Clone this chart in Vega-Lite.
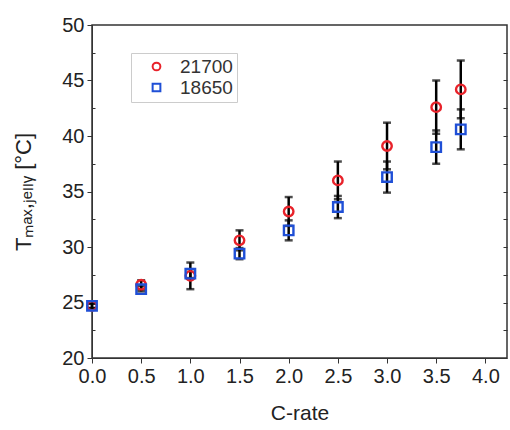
{
  "$schema": "https://vega.github.io/schema/vega-lite/v6.json",
  "width": 415,
  "height": 333,
  "autosize": {"type": "none"},
  "padding": {"left": 92, "top": 25, "right": 3, "bottom": 72},
  "background": "white",
  "config": {
    "font": "Liberation Sans",
    "view": {"stroke": "#333", "strokeWidth": 1.5},
    "axis": {"grid": false, "domainColor": "#333", "tickColor": "#333", "labelColor": "#222", "titleColor": "#222", "labelFont": "Liberation Sans", "titleFont": "Liberation Sans", "titleFontWeight": "normal"}
  },
  "datasets": {
    "pts": [
      {"c": 0.0, "t": 24.7, "lo": 24.5, "hi": 24.9, "cell": "21700"},
      {"c": 0.5, "t": 26.6, "lo": 26.2, "hi": 27.0, "cell": "21700"},
      {"c": 1.0, "t": 27.4, "lo": 26.2, "hi": 28.6, "cell": "21700"},
      {"c": 1.5, "t": 30.6, "lo": 29.7, "hi": 31.5, "cell": "21700"},
      {"c": 2.0, "t": 33.2, "lo": 31.9, "hi": 34.5, "cell": "21700"},
      {"c": 2.5, "t": 36.0, "lo": 34.3, "hi": 37.7, "cell": "21700"},
      {"c": 3.0, "t": 39.1, "lo": 37.0, "hi": 41.2, "cell": "21700"},
      {"c": 3.5, "t": 42.6, "lo": 40.2, "hi": 45.0, "cell": "21700"},
      {"c": 3.75, "t": 44.2, "lo": 41.6, "hi": 46.8, "cell": "21700"},
      {"c": 0.0, "t": 24.7, "lo": 24.5, "hi": 24.9, "cell": "18650"},
      {"c": 0.5, "t": 26.2, "lo": 26.0, "hi": 26.5, "cell": "18650"},
      {"c": 1.0, "t": 27.6, "lo": 27.2, "hi": 28.0, "cell": "18650"},
      {"c": 1.5, "t": 29.4, "lo": 28.9, "hi": 29.9, "cell": "18650"},
      {"c": 2.0, "t": 31.5, "lo": 30.6, "hi": 32.4, "cell": "18650"},
      {"c": 2.5, "t": 33.6, "lo": 32.6, "hi": 34.6, "cell": "18650"},
      {"c": 3.0, "t": 36.3, "lo": 34.9, "hi": 37.7, "cell": "18650"},
      {"c": 3.5, "t": 39.0, "lo": 37.5, "hi": 40.5, "cell": "18650"},
      {"c": 3.75, "t": 40.6, "lo": 38.8, "hi": 42.4, "cell": "18650"}
    ]
  },
  "data": {"name": "pts"},
  "resolve": {"axis": {"y": "independent"}},
  "layer": [
    {
      "mark": {"type": "errorbar", "ticks": {"size": 8, "thickness": 2.5, "color": "black"}, "rule": {"strokeWidth": 2.5, "color": "black"}},
      "encoding": {
        "x": {"field": "c", "type": "quantitative", "scale": {"domain": [0, 4.22], "nice": false, "zero": false},
          "axis": {"title": "C-rate", "titleFontSize": 21, "titlePadding": 16, "labelFontSize": 20, "labelPadding": 3,
            "values": [0, 0.25, 0.5, 0.75, 1, 1.25, 1.5, 1.75, 2, 2.25, 2.5, 2.75, 3, 3.25, 3.5, 3.75, 4],
            "labelExpr": "(datum.value * 2) % 1 === 0 ? format(datum.value, '.1f') : ''",
            "tickSize": {"condition": {"test": "(datum.value * 2) % 1 === 0", "value": 5}, "value": 3},
            "domain": true, "labelFlush": false, "labelOverlap": false}},
        "y": {"field": "lo", "type": "quantitative", "scale": {"domain": [20, 50], "nice": false, "zero": false},
          "axis": {"title": "Tₘₐₓ,ⱼₑₗₗᵧ [°C]", "titleFontSize": 22, "titlePadding": 26, "labelFontSize": 20, "labelPadding": 3,
            "values": [20, 22.5, 25, 27.5, 30, 32.5, 35, 37.5, 40, 42.5, 45, 47.5, 50],
            "labelExpr": "datum.value % 5 === 0 ? datum.label : ''",
            "tickSize": {"condition": {"test": "datum.value % 5 === 0", "value": 5}, "value": -3},
            "labelOverlap": false}},
        "y2": {"field": "hi"}
      }
    },
    {
      "mark": {"type": "point", "filled": false, "strokeWidth": 2.4, "size": 90, "opacity": 1},
      "encoding": {
        "x": {"field": "c", "type": "quantitative"},
        "y": {"field": "t", "type": "quantitative",
          "axis": {"orient": "right", "title": null, "labels": false, "values": [22.5, 25, 27.5, 30, 32.5, 35, 37.5, 40, 42.5, 45, 47.5], "tickSize": -4, "domain": false}},
        "color": {"field": "cell", "type": "nominal", "scale": {"domain": ["21700", "18650"], "range": ["#e8222a", "#1f4fd6"]},
          "legend": {"title": null, "orient": "none", "legendX": 39, "legendY": 28, "labelFontSize": 19, "labelColor": "#333", "symbolStrokeWidth": 2, "symbolSize": 60, "strokeColor": "#ccc", "fillColor": "white", "padding": 4, "symbolOffset": 12, "labelOffset": 14, "rowPadding": 1}},
        "shape": {"field": "cell", "type": "nominal", "scale": {"domain": ["21700", "18650"], "range": ["circle", "square"]}, "legend": null}
      }
    }
  ]
}
